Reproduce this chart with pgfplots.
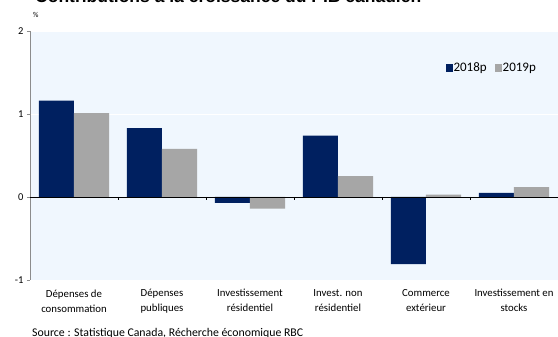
\documentclass[border=0pt]{standalone}
\usepackage{pgfplots}
\pgfplotsset{compat=1.18}
\usepackage{fontspec}
\setmainfont{Carlito}
\newfontfamily\titlefont{Liberation Sans}
\definecolor{navy}{RGB}{0,32,96}
\definecolor{gbar}{RGB}{166,166,166}
\definecolor{bg}{RGB}{240,247,254}
\begin{document}
\begin{tikzpicture}
\begin{axis}[
 at={(30pt,57pt)}, anchor=south west,
 width=528pt, height=249pt, scale only axis,
 xmin=-0.5, xmax=5.5, ymin=-1, ymax=2,
 axis background/.style={fill=bg},
 axis y line*=left, axis x line*=bottom,
 x axis line style={draw=none},
 y axis line style={draw=gray!90, line width=0.8pt},
 xtick={0,1,2,3,4,5},
 xticklabels={{Dépenses de\\consommation},{Dépenses\\publiques},{Investissement\\résidentiel},{Invest. non\\résidentiel},{Commerce\\extérieur},{Investissement en\\stocks}},
 xtick style={draw=none},
 xticklabel style={align=center, font=\fontsize{10.8}{15}\selectfont, yshift=-3pt},
 ytick={-1,0,1,2},
 ytick style={draw=gray!90, line width=0.6pt},
 tick align=outside, major tick length=3pt,
 yticklabel style={font=\fontsize{10.5}{11}\selectfont},
 /pgf/number format/assume math mode=true,
 ymajorgrids, grid style={white, line width=0.8pt},
 ybar, bar width=0.4,
 legend style={at={(rel axis cs:0.968,0.851)}, anchor=east, draw=none, fill=none, font=\fontsize{13}{14}\selectfont, legend columns=2, /tikz/every even column/.append style={column sep=6pt}, /tikz/every odd column/.append style={column sep=-1pt}},
 legend image code/.code={\fill[#1,draw=none] (0pt,-4pt) rectangle (7pt,4pt);},
]
\addplot[fill=navy, draw=none, bar shift=-0.2] coordinates {(0,1.16) (1,0.83) (2,-0.07) (3,0.74) (4,-0.81) (5,0.05)};
\addplot[fill=gbar, draw=none, bar shift=0.2] coordinates {(0,1.01) (1,0.58) (2,-0.14) (3,0.25) (4,0.03) (5,0.12)};
\legend{2018p,2019p}
\draw[black, line width=0.8pt] (axis cs:-0.5,0) -- (axis cs:5.5,0);
\pgfplotsinvokeforeach{0.5,1.5,2.5,3.5,4.5}{\draw[black, line width=0.6pt] (axis cs:#1,0) -- ([yshift=-3pt]axis cs:#1,0);}
\end{axis}
\node[anchor=base west, font=\titlefont\bfseries\fontsize{17.5}{19}\selectfont, inner sep=0pt] at (35pt,334.5pt) {Contributions à la croissance du PIB canadien};
\node[anchor=base west, font=\fontsize{7.5}{8}\selectfont, inner sep=0pt] at (33pt,319pt) {\%};
\node[anchor=base west, font=\fontsize{11.8}{13}\selectfont, inner sep=0pt] at (32pt,0.5pt) {Source : Statistique Canada, Récherche économique RBC};
\pgfresetboundingbox
\useasboundingbox (0,0) rectangle (558pt,337pt);
\end{tikzpicture}
\end{document}
